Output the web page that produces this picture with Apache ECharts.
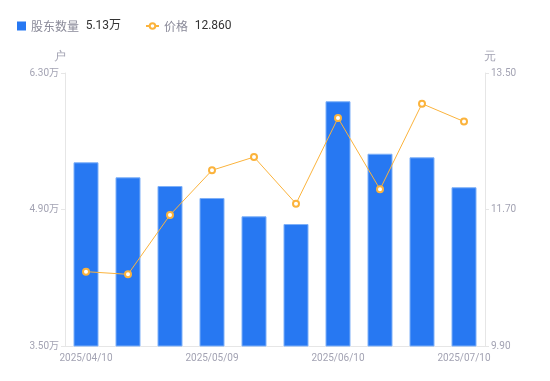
<!DOCTYPE html>
<html><head><meta charset="utf-8">
<script src="https://cdn.jsdelivr.net/npm/echarts@6/dist/echarts.min.js"></script>
<style>html,body{margin:0;padding:0;background:#fff}#c{width:550px;height:381px}</style>
</head><body><div id="c"></div>
<script>
const categories = ['2025/04/10','2025/04/18','2025/04/30','2025/05/09','2025/05/20','2025/05/30','2025/06/10','2025/06/20','2025/06/30','2025/07/10'];
const holders = [5.384, 5.23, 5.141, 5.018, 4.83, 4.751, 6.01, 5.472, 5.435, 5.128];
const prices = [10.88, 10.845, 11.628, 12.217, 12.392, 11.777, 12.907, 11.966, 13.095, 12.86];
const leftTicks = {min: 3.5, max: 6.3, interval: 1.4};
const rightTicks = {min: 9.9, max: 13.5, interval: 1.8};
const legendValues = {'股东数量': '5.13万', '价格': '12.860'};

const chart = echarts.init(document.getElementById('c'));
const axisLabelStyle = {color: '#a3a3b3', fontSize: 10, fontFamily: 'Roboto, "Noto Sans CJK SC", sans-serif'};
const legendRich = {
  n: {color: '#8a8a99', fontSize: 12, fontFamily: '"Noto Sans CJK SC", sans-serif'},
  v: {color: '#333', fontSize: 12, fontFamily: 'Roboto, "Noto Sans CJK SC", sans-serif'}
};
const fmt = n => '{n|' + n + '}  {v|' + legendValues[n] + '}';
chart.setOption({
  animation: false,
  legend: [{
    left: 12, top: 15, itemWidth: 9, itemHeight: 9,
    data: [{name: '股东数量', icon: 'rect', itemStyle: {borderWidth: 0}}],
    formatter: fmt, textStyle: {rich: legendRich}
  }, {
    left: 140, top: 15, itemWidth: 13, itemHeight: 7,
    data: [{name: '价格'}],
    formatter: fmt, textStyle: {rich: legendRich}
  }],
  grid: {left: 65, right: 65, top: 73, bottom: 35},
  xAxis: {
    type: 'category', data: categories,
    axisLine: {lineStyle: {color: '#e6e6e6'}},
    axisTick: {show: false},
    axisLabel: Object.assign({interval: 2, margin: 7}, axisLabelStyle)
  },
  yAxis: [{
    type: 'value', name: '户', min: leftTicks.min, max: leftTicks.max, interval: leftTicks.interval,
    nameTextStyle: {color: '#a3a3b3', fontSize: 12, padding: [0, 10, 0, 0]}, nameGap: 10,
    axisLine: {show: true, lineStyle: {color: '#e6e6e6'}},
    axisTick: {show: true, length: 4, lineStyle: {color: '#e6e6e6'}},
    splitLine: {show: false},
    axisLabel: Object.assign({formatter: v => v.toFixed(2) + '万', margin: 6}, axisLabelStyle)
  }, {
    type: 'value', name: '元', min: rightTicks.min, max: rightTicks.max, interval: rightTicks.interval,
    nameTextStyle: {color: '#a3a3b3', fontSize: 12, padding: [0, 0, 0, 10]}, nameGap: 10,
    axisLine: {show: true, lineStyle: {color: '#e6e6e6'}},
    axisTick: {show: true, length: 4, lineStyle: {color: '#e6e6e6'}},
    splitLine: {show: false},
    axisLabel: Object.assign({formatter: v => v.toFixed(2), margin: 6}, axisLabelStyle)
  }],
  series: [{
    name: '股东数量', type: 'bar', data: holders, barWidth: 25,
    itemStyle: {color: '#2778F2', borderColor: '#7eb0f8', borderWidth: 1}
  }, {
    name: '价格', type: 'line', yAxisIndex: 1, data: prices,
    symbol: 'emptyCircle', symbolSize: 6,
    lineStyle: {color: '#FBB33C', width: 1},
    itemStyle: {color: '#FBB33C', borderWidth: 2}
  }]
});
</script></body></html>
